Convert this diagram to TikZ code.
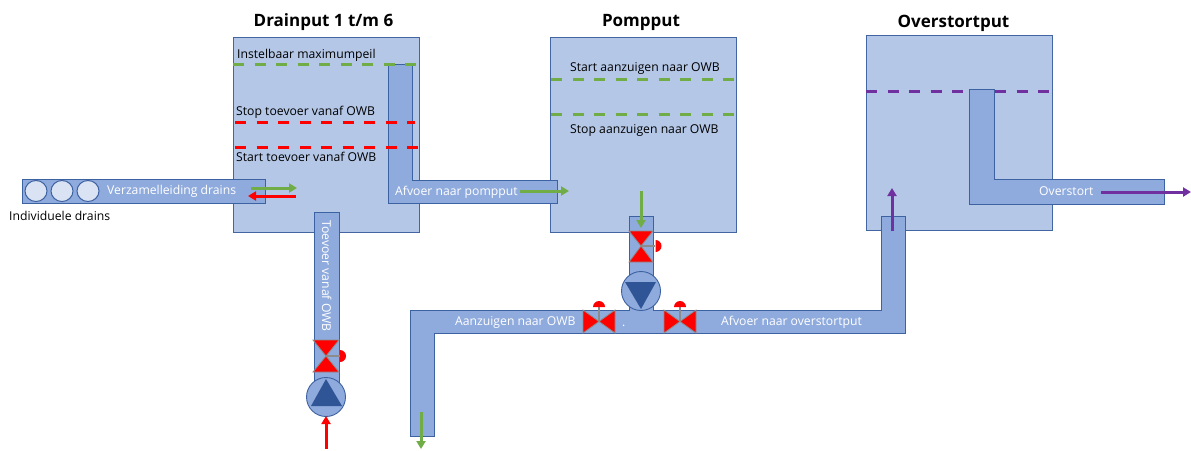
\documentclass[tikz,border=0pt]{standalone}
\usepackage{fontspec}
\setmainfont{Open Sans}
\usetikzlibrary{arrows.meta}
\definecolor{putfill}{HTML}{B4C7E7}
\definecolor{pipefill}{HTML}{8FAADC}
\definecolor{edgeblue}{HTML}{2F5597}
\definecolor{grn}{HTML}{70AD47}
\definecolor{prp}{HTML}{7030A0}
\definecolor{drainfill}{HTML}{DAE3F3}
\definecolor{valvegray}{HTML}{8C8C8C}
\tikzset{
  x=1pt,y=-1pt,
  put/.style={fill=putfill,draw=edgeblue!85!putfill,line width=0.9pt},
  pipe/.style={fill=pipefill,draw=edgeblue!85!pipefill,line width=0.9pt,line join=miter},
  lbl/.style={inner sep=0pt,anchor=base west,text=black,font=\fontsize{12.2}{14}\selectfont},
  wlbl/.style={lbl,text=white},
  ttl/.style={inner sep=0pt,anchor=base,text=black,font=\fontsize{17}{20}\selectfont\bfseries},
  lvl/.style={line width=3pt,dash pattern=on 11pt off 10.5pt},
  flow/.style={line width=3pt,-{Triangle[length=8pt,width=9pt]}},
  tri/.style={fill=red,draw=valvegray,line width=0.8pt,line join=miter},
  stem/.style={draw=valvegray,line width=1.3pt},
  knob/.style={fill=red,draw=none},
  pumpc/.style={fill=pipefill,draw=edgeblue!85!pipefill,line width=0.9pt},
  pumpt/.style={fill=edgeblue,draw=none},
}
\begin{document}
\begin{tikzpicture}
\useasboundingbox (0,0) rectangle (1191,450);
% putten
\draw[put] (233,37) rectangle (419,232);
\draw[put] (550,37) rectangle (736,232);
\draw[put] (866,35) rectangle (1052,230);
% titels
\node[ttl] (t1) at (323.5,26) {Drainput 1 t/m 6};
\node[ttl] (t2) at (641,26) {Pompput};
\node[ttl] (t3) at (953.5,27) {Overstortput};
% leidingen drainput
\draw[pipe] (388,64) -- (412,64) -- (412,180) -- (557,180) -- (557,203) -- (388,203) -- cycle;
\draw[lvl,grn] (233,64) -- (418,64);
\draw[lvl,red] (235,122) -- (415,122);
\draw[lvl,red] (235,147) -- (419,147);
\draw[lvl,grn] (551,79) -- (736,79);
\draw[lvl,grn] (551,114) -- (736,114);
\draw[pipe] (22,179) rectangle (265,203);
\foreach \cx in {36,62,88}
  \draw[fill=drainfill,draw=edgeblue!85!pipefill,line width=1pt] (\cx,191) ellipse [x radius=11,y radius=10.5];
\draw[pipe] (314,212) rectangle (339,385);
% overstort
\draw[lvl,prp] (866,91) -- (1050,91);
\draw[pipe] (969,89) -- (994,89) -- (994,179) -- (1164,179) -- (1164,204) -- (969,204) -- cycle;
% pomp- en hoofdleiding
\draw[pipe] (410,310) -- (629,310) -- (629,216) -- (653,216) -- (653,310) -- (881,310) -- (881,216) -- (905,216) -- (905,333) -- (434,333) -- (434,436) -- (410,436) -- cycle;
% pomp toevoer
\draw[pumpc] (326,397) circle [radius=19.5];
\fill[pumpt] (326,379) -- (342,406) -- (311,406) -- cycle;
\draw[stem] (326,356) -- (340,356);
\fill[knob] (340,350) arc[start angle=-90,end angle=90,radius=6] -- cycle;
\draw[tri] (313,340) -- (339,340) -- (326,356) -- cycle;
\draw[tri] (313,372) -- (339,372) -- (326,356) -- cycle;
% pomp aanzuigen
\draw[pumpc] (641,291) circle [radius=19.5];
\fill[pumpt] (625,282) -- (656,282) -- (641,309) -- cycle;
\draw[stem] (641,246) -- (655,246);
\fill[knob] (655.5,240) arc[start angle=-90,end angle=90,radius=6] -- cycle;
\draw[tri] (629,231) -- (653,231) -- (641,246) -- cycle;
\draw[tri] (629,262) -- (653,262) -- (641,246) -- cycle;
% horizontale kleppen
\foreach \vx in {599,680}{
  \draw[stem] (\vx,321.5) -- (\vx,306);
  \fill[knob] (\vx-6,307) arc[start angle=180,end angle=360,radius=6] -- cycle;
  \draw[tri] (\vx-16,310) -- (\vx-16,333) -- (\vx,321.5) -- cycle;
  \draw[tri] (\vx+16,310) -- (\vx+16,333) -- (\vx,321.5) -- cycle;
}
% teksten
\node[lbl] (l1) at (237,58) {Instelbaar maximumpeil};
\node[lbl] (l2) at (236,115) {Stop toevoer vanaf OWB};
\node[lbl] (l3) at (236,161) {Start toevoer vanaf OWB};
\node[lbl] (l4) at (9,220) {Individuele drains};
\node[lbl] (l5) at (570,71) {Start aanzuigen naar OWB};
\node[lbl] (l6) at (570,133) {Stop aanzuigen naar OWB};
\node[wlbl] (w1) at (107,194) {Verzamelleiding drains};
\node[wlbl] (w2) at (395,195) {Afvoer naar pompput};
\node[wlbl,rotate=-90,anchor=base] (w3) at (322,276) {Toevoer vanaf OWB};
\node[wlbl] (w4) at (455,325) {Aanzuigen naar OWB};
\node[wlbl] (w5) at (721,325) {Afvoer naar overstortput};
\node[wlbl] (w6) at (1039,195) {Overstort};
\node[wlbl] (w7) at (622,326) {.};
% stroompijlen
\coordinate (a1s) at (251,188); \coordinate (a1e) at (297,188);
\coordinate (a2s) at (296,196); \coordinate (a2e) at (248,196);
\coordinate (a3s) at (520,191); \coordinate (a3e) at (569,191);
\coordinate (a4s) at (326,449); \coordinate (a4e) at (326,416);
\coordinate (a5s) at (641,191); \coordinate (a5e) at (641,228);
\coordinate (a6s) at (421,412); \coordinate (a6e) at (421,449);
\coordinate (a7s) at (892,231); \coordinate (a7e) at (892,188);
\coordinate (a8s) at (1101,192); \coordinate (a8e) at (1191,192);
\draw[flow,grn] (a1s) -- (a1e);
\draw[flow,red] (a2s) -- (a2e);
\draw[flow,grn] (a3s) -- (a3e);
\draw[flow,red] (a4s) -- (a4e);
\draw[flow,grn] (a5s) -- (a5e);
\draw[flow,grn] (a6s) -- (a6e);
\draw[flow,prp] (a7s) -- (a7e);
\draw[flow,prp] (a8s) -- (a8e);
\end{tikzpicture}
\end{document}
